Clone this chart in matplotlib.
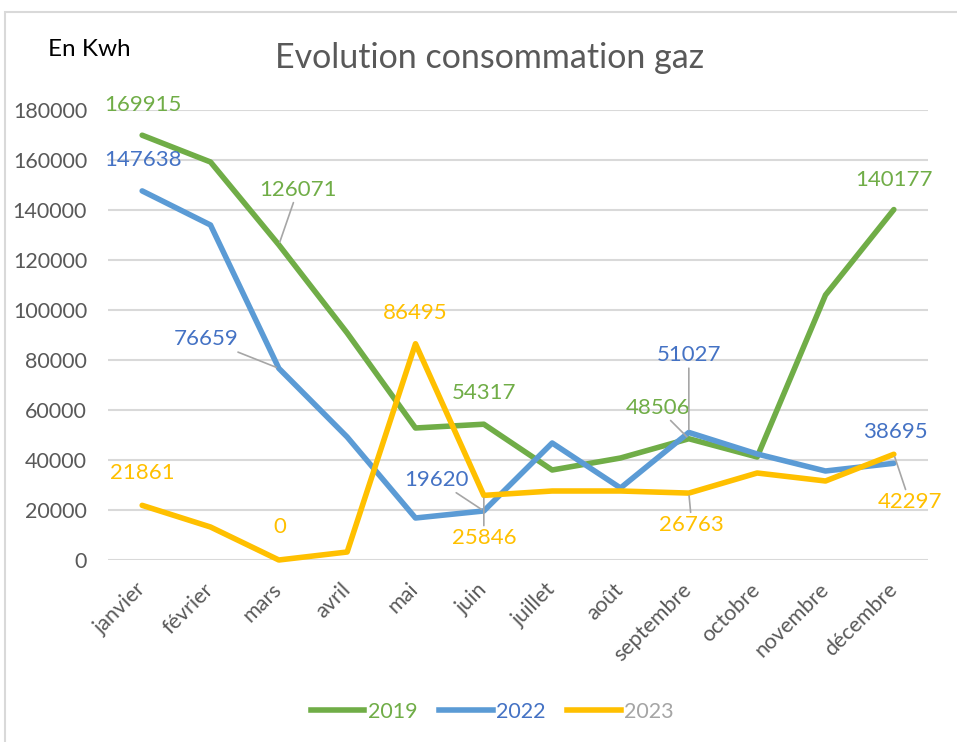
import matplotlib
matplotlib.use("Agg")
import matplotlib.pyplot as plt
from matplotlib.patches import Rectangle
from matplotlib.lines import Line2D

plt.rcParams['font.family'] = ['Lato', 'DejaVu Sans']

months = ["janvier", "février", "mars", "avril", "mai", "juin", "juillet",
          "août", "septembre", "octobre", "novembre", "décembre"]
v2019 = [169915, 159200, 126071, 90800, 52800, 54317, 36000, 40800, 48506, 41200, 106000, 140177]
v2022 = [147638, 134000, 76659, 49200, 16800, 19620, 46800, 28800, 51027, 42400, 35600, 38695]
v2023 = [21861, 13200, 0, 3200, 86495, 25846, 27600, 27600, 26763, 34800, 31600, 42297]
series_names = ["2019", "2022", "2023"]
yticks = [0, 20000, 40000, 60000, 80000, 100000, 120000, 140000, 160000, 180000]

# label placement: month index -> (dx, dy) in pixels, leader line flag
labels2019 = {0: (1, 30, False), 2: (19, 55, True), 5: (0, 31, False), 8: (-31, 31, True), 11: (0, 30, False)}
labels2022 = {0: (1, 31, False), 2: (-73, 29, True), 5: (-47, 31, True), 8: (0, 77, True), 11: (1, 31, False)}
labels2023 = {0: (0, 32, False), 2: (1, 33, False), 4: (0, 31, False), 5: (0, -43, True), 8: (3, -32, True), 11: (16, -48, True)}

c_green, c_blue, c_yellow = "#70AD47", "#5B9BD5", "#FFC000"
t_green, t_blue, t_yellow = "#70AD47", "#4472C4", "#FFC000"
grey_txt = "#595959"
leader = "#A6A6A6"

W, H = 957, 742
fig = plt.figure(figsize=(W / 100, H / 100), dpi=100)
fig.patch.set_facecolor("white")

# outer chart border
fig.add_artist(Rectangle((5 / W, -0.1), 2.0, 1 - 12 / H + 0.1, transform=fig.transFigure,
                         fill=False, edgecolor="#D9D9D9", lw=1.5))

ax = fig.add_axes([108 / W, 1 - 560 / H, 820 / W, 450 / H])
x = list(range(len(months)))

for vals, col, tcol, labs in [(v2019, c_green, t_green, labels2019),
                              (v2022, c_blue, t_blue, labels2022),
                              (v2023, c_yellow, t_yellow, labels2023)]:
    ax.plot(x, vals, color=col, lw=4, solid_capstyle="round", solid_joinstyle="round",
            clip_on=False, zorder=3)
    for i, (dx, dy, lead) in labs.items():
        kw = {}
        if lead:
            kw["arrowprops"] = dict(arrowstyle="-", color=leader, lw=1.2,
                                    shrinkA=0, shrinkB=2)
        ax.annotate(f"{vals[i]}", (i, vals[i]), xytext=(dx, dy), textcoords="offset pixels",
                    ha="center", va="center", color=tcol, fontsize=16, zorder=5,
                    annotation_clip=False, **kw)

ax.set_xlim(-0.5, 11.5)
ax.set_ylim(0, 180000)
ax.set_yticks(yticks)
ax.set_yticklabels([str(t) for t in yticks])
ax.set_xticks(x)
ax.set_xticklabels(months, rotation=45, ha="right", va="center", rotation_mode="anchor")
ax.tick_params(axis="y", length=0, pad=15, labelsize=15.5, labelcolor=grey_txt)
ax.tick_params(axis="x", length=0, pad=19, labelsize=15.5, labelcolor=grey_txt)
ax.grid(axis="y", color="#D9D9D9", lw=1.5, zorder=0)
ax.set_axisbelow(True)
for s in ax.spines.values():
    s.set_visible(False)
ax.set_facecolor("none")

fig.text(490 / W, 1 - 58 / H, "Evolution consommation gaz", ha="center", va="center",
         fontsize=24.5, color=grey_txt)
fig.text(48 / W, 1 - 50 / H, "En Kwh", ha="left", va="center", fontsize=17.5, color="black")

handles = [Line2D([], [], color=c, lw=4) for c in (c_green, c_blue, c_yellow)]
leg = fig.legend(handles, series_names, loc="center", bbox_to_anchor=(492 / W, 1 - 712 / H),
                 ncol=3, frameon=False, fontsize=15.5, handlelength=2.5, handletextpad=0.15,
                 columnspacing=1.0)
for txt, c in zip(leg.get_texts(), (t_green, t_blue, "#A5A5A5")):
    txt.set_color(c)

fig.savefig("out.png", dpi=100, facecolor="white")
